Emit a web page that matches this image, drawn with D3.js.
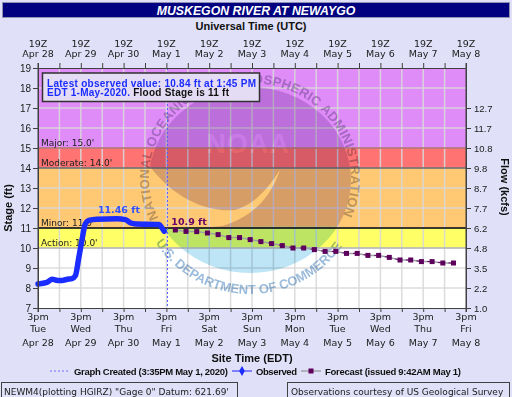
<!DOCTYPE html>
<html>
<head>
<meta charset="utf-8">
<script src="https://cdn.jsdelivr.net/npm/d3@7"></script>
<style>
  body { margin: 0; background: #e0e0f8; }
  svg { display: block; font-family: "DejaVu Sans", Verdana, sans-serif; }
  .axis path, .axis line { stroke: #404040; }
  .axis text { fill: #202020; }
</style>
</head>
<body>
<svg id="chart" width="512" height="397"></svg>
<script>
// observed stage (EDT timestamps)
const obsTimes = [
  "2020-04-28T15:00-04:00", "2020-04-28T20:00-04:00", "2020-04-28T23:00-04:00",
  "2020-04-29T02:00-04:00", "2020-04-29T04:30-04:00", "2020-04-29T07:30-04:00",
  "2020-04-29T10:00-04:00", "2020-04-29T12:00-04:00", "2020-04-29T13:45-04:00",
  "2020-04-29T15:45-04:00", "2020-04-29T17:30-04:00", "2020-04-29T19:30-04:00",
  "2020-04-30T00:00-04:00", "2020-04-30T11:15-04:00", "2020-04-30T16:00-04:00",
  "2020-04-30T19:00-04:00", "2020-04-30T22:00-04:00", "2020-05-01T11:00-04:00",
  "2020-05-01T12:30-04:00", "2020-05-01T13:45-04:00"
];
const obsStage = [8.20, 8.28, 8.44, 8.38, 8.38, 8.44, 8.47, 8.62, 9.45, 10.45,
  11.20, 11.38, 11.44, 11.46, 11.42, 11.25, 11.20, 11.18, 11.00, 10.84];

// forecast stage (UTC timestamps)
const fcstTimes = [
  "2020-05-02T00:00Z", "2020-05-02T06:00Z", "2020-05-02T12:00Z", "2020-05-02T18:00Z",
  "2020-05-03T00:00Z", "2020-05-03T06:00Z", "2020-05-03T12:00Z", "2020-05-03T18:00Z",
  "2020-05-04T00:00Z", "2020-05-04T06:00Z", "2020-05-04T12:00Z", "2020-05-04T18:00Z",
  "2020-05-05T00:00Z", "2020-05-05T06:00Z", "2020-05-05T12:00Z", "2020-05-05T18:00Z",
  "2020-05-06T00:00Z", "2020-05-06T06:00Z", "2020-05-06T12:00Z", "2020-05-06T18:00Z",
  "2020-05-07T00:00Z", "2020-05-07T06:00Z", "2020-05-07T12:00Z", "2020-05-07T18:00Z",
  "2020-05-08T00:00Z", "2020-05-08T06:00Z", "2020-05-08T12:00Z"
];
const fcstStage = [10.90, 10.83, 10.82, 10.75, 10.67, 10.52, 10.52, 10.42, 10.32,
  10.22, 10.12, 10.00, 10.00, 9.92, 9.83, 9.83, 9.73, 9.73, 9.63, 9.63, 9.53,
  9.40, 9.40, 9.32, 9.32, 9.25, 9.25];

const stageTicks = [7, 8, 9, 10, 11, 12, 13, 14, 15, 16, 17, 18, 19];
const flowStages = [7, 8, 9, 10, 11, 12, 13, 14, 15, 16, 17];
const flowLabels = ["1.0", "2.2", "3.5", "4.8", "6.2", "7.7", "8.7", "9.8", "10.8", "11.7", "12.7"];

const floodNames = ["Action", "Minor", "Moderate", "Major"];
const floodStages = [10, 11, 14, 15];

const graphCreated = "2020-05-01T19:35Z";

const bandFill = { Action: "#ffff66", Minor: "#ffc873", Moderate: "#ff7373", Major: "#e08cf8" };
const bandLine = { Action: "#a0a0a0", Minor: "#000000", Moderate: "#303030", Major: "#a03a3a" };

const svg = d3.select("#chart");
const L = 38, R = 466, T = 68, B = 308;

const x = d3.scaleUtc()
  .domain([new Date("2020-04-28T19:00Z"), new Date("2020-05-08T19:00Z")])
  .range([L, R]);
const y = d3.scaleLinear().domain([7, 19]).range([B, T]);

const halfDays = d3.range(21).map(i => d3.utcHour.offset(x.domain()[0], i * 12));
const days = halfDays.filter((d, i) => i % 2 === 0);
const edt = d => d3.utcHour.offset(d, -4);
const bf = "'Liberation Sans', Arial, sans-serif";

// title bar
svg.append("rect").attr("x", 2.5).attr("y", 2.5).attr("width", 507).attr("height", 15)
  .attr("fill", "#000080").attr("stroke", "#9090b0");
svg.append("text").attr("x", 256).attr("y", 14.5).attr("text-anchor", "middle")
  .style("font-family", bf).style("font-weight", "bold").style("font-style", "italic").style("font-size", "12.3px")
  .attr("fill", "#fff").text("MUSKEGON RIVER AT NEWAYGO");

svg.append("text").attr("x", 251).attr("y", 30).attr("text-anchor", "middle")
  .style("font-family", bf).style("font-weight", "bold").style("font-size", "11px").attr("fill", "#101010")
  .text("Universal Time (UTC)");

// plot background + flood bands
svg.append("rect").attr("x", L).attr("y", T).attr("width", R - L).attr("height", B - T).attr("fill", "#fff");
floodNames.forEach((name, i) => {
  const hi = i < floodStages.length - 1 ? floodStages[i + 1] : 19;
  svg.append("rect").attr("x", L).attr("width", R - L)
    .attr("y", y(hi)).attr("height", y(floodStages[i]) - y(hi))
    .attr("fill", bandFill[name]);
});

// grid
const grid = svg.append("g").attr("stroke", "#d8d8d8").attr("stroke-opacity", 0.9).attr("stroke-width", 1.5);
grid.selectAll(".gx").data(halfDays.slice(1, -1)).join("line")
  .attr("x1", d => x(d)).attr("x2", d => x(d)).attr("y1", T).attr("y2", B);
grid.selectAll(".gy").data(stageTicks.slice(1, -1)).join("line")
  .attr("x1", L).attr("x2", R).attr("y1", d => y(d)).attr("y2", d => y(d));

// NOAA watermark (multiplied over the bands)
const cx = 250, cy = 178;
const defs = svg.append("defs");
const wm = svg.append("g").style("mix-blend-mode", "multiply");
defs.append("clipPath").attr("id", "inner").append("ellipse")
  .attr("cx", cx).attr("cy", cy + 2).attr("rx", 101).attr("ry", 93);
const inner = wm.append("g").attr("clip-path", "url(#inner)");
inner.append("rect").attr("x", 140).attr("y", 80).attr("width", 220).attr("height", 200).attr("fill", "#d6cae2");
inner.append("path").attr("fill", "#ffffff")
  .attr("d", "M145,160 C172,198 205,212 235,210 C252,205 264,194 280,170 C270,200 250,218 222,226 L145,234 Z");
inner.append("path").attr("fill", "#bde5f6")
  .attr("d", "M140,229 C200,227 300,225 360,227 L360,290 L140,290 Z");
inner.append("text").attr("x", cx - 2).attr("y", 153).attr("text-anchor", "middle")
  .style("font-family", bf).style("font-weight", "bold")
  .style("font-size", "27px").attr("letter-spacing", 1).attr("fill", "#e6dfee").text("NOAA");

function arcPath(rx, ry, a0, a1, large, sweep) {
  const p = a => [cx + rx * Math.cos(a * Math.PI / 180), cy + ry * Math.sin(a * Math.PI / 180)];
  const s = p(a0), e = p(a1);
  return `M${s[0]},${s[1]} A${rx},${ry} 0 ${large} ${sweep} ${e[0]},${e[1]}`;
}
const topArc = defs.append("path").attr("id", "topArc").attr("d", arcPath(101, 95, 155, 385, 1, 1));
const botArc = defs.append("path").attr("id", "botArc").attr("d", arcPath(114, 116, 146, 34, 0, 0));
const ringText = (id, txt, fill, len) => wm.append("text")
  .style("font-family", bf).style("font-weight", "bold").style("font-size", "13px").attr("fill", fill)
  .append("textPath").attr("href", "#" + id).attr("textLength", len).attr("lengthAdjust", "spacing").text(txt);
ringText("topArc", "NATIONAL OCEANIC AND ATMOSPHERIC ADMINISTRATION", "#bcbcc8", topArc.node().getTotalLength() - 4);
ringText("botArc", "U.S. DEPARTMENT OF COMMERCE", "#9cbcdc", botArc.node().getTotalLength() - 4);

// flood stage lines and labels
floodNames.forEach((name, i) => {
  svg.append("line").attr("x1", L).attr("x2", R).attr("y1", y(floodStages[i])).attr("y2", y(floodStages[i]))
    .attr("stroke", bandLine[name]).attr("stroke-width", name === "Minor" ? 1.3 : 1);
  svg.append("text").attr("x", L + 3).attr("y", y(floodStages[i]) - 2)
    .style("font-size", "9px").attr("fill", "#202020")
    .text(`${name}: ${floodStages[i].toFixed(1)}'`);
});

// graph created marker
svg.append("line").attr("x1", x(new Date(graphCreated))).attr("x2", x(new Date(graphCreated)))
  .attr("y1", T).attr("y2", B).attr("stroke", "#5a5aff").attr("stroke-dasharray", "2,2");

// forecast
const fc = fcstTimes.map((t, i) => ({ t: new Date(t), v: fcstStage[i] }));
const fline = d3.line().x(d => x(d.t)).y(d => y(d.v));
svg.append("path").datum(fc).attr("fill", "none").attr("stroke", "#a0a0a8").attr("stroke-width", 1.5).attr("d", fline);
svg.append("path").datum(fc).attr("fill", "none").attr("stroke", "#660066").attr("stroke-width", 1)
  .attr("stroke-dasharray", "4,6.7").attr("stroke-dashoffset", 2).attr("d", fline);
svg.selectAll(".fpt").data(fc).join("rect")
  .attr("x", d => x(d.t) - 2.5).attr("y", d => y(d.v) - 2.5).attr("width", 5).attr("height", 5)
  .attr("fill", "#5c005c");
svg.append("text").attr("x", x(fc[0].t) - 4).attr("y", y(fc[0].v) - 5)
  .style("font-size", "9.5px").style("font-weight", "bold").attr("fill", "#660066")
  .text(`${fc[0].v} ft`);

// observed
const ob = obsTimes.map((t, i) => ({ t: new Date(t), v: obsStage[i] }));
svg.append("path").datum(ob).attr("fill", "none").attr("stroke", "#1a2cff").attr("stroke-width", 5.5)
  .attr("stroke-linejoin", "round").attr("stroke-linecap", "round")
  .attr("d", d3.line().x(d => x(d.t)).y(d => y(d.v)).curve(d3.curveMonotoneX));
const peak = ob[d3.maxIndex(ob, d => d.v)];
svg.append("text").attr("x", x(peak.t) + 2).attr("y", y(peak.v) - 6).attr("text-anchor", "middle")
  .style("font-size", "9.5px").style("font-weight", "bold").attr("fill", "#3050ff")
  .text(`${peak.v} ft`);

// latest value box
const last = ob[ob.length - 1];
const box = svg.append("g");
box.append("rect").attr("x", 42.5).attr("y", 73).attr("width", 217).attr("height", 28.5)
  .attr("fill", "#e4dcf4").attr("stroke", "#303030").attr("stroke-width", 1.5);
box.append("text").attr("x", 47).attr("y", 86.5).attr("textLength", 209)
  .style("font-family", bf).style("font-weight", "bold").style("font-size", "10px").attr("fill", "#1a2cff")
  .text(`Latest observed value: ${last.v} ft at 1:45 PM`);
const l2 = box.append("text").attr("x", 47).attr("y", 96).attr("textLength", 182)
  .style("font-family", bf).style("font-weight", "bold").style("font-size", "10px");
l2.append("tspan").attr("fill", "#1a2cff").text("EDT 1-May-2020.");
l2.append("tspan").attr("fill", "#101010").text(` Flood Stage is ${floodStages[1]} ft`);

// axes
svg.append("g").attr("class", "axis").attr("transform", `translate(0,${T})`)
  .call(d3.axisTop(x).tickValues(halfDays).tickSize(5).tickSizeOuter(0).tickFormat(""));
svg.append("g").attr("class", "axis").attr("transform", `translate(0,${B})`)
  .call(d3.axisBottom(x).tickValues(halfDays).tickSize(4).tickSizeOuter(0).tickFormat(""));
svg.append("g").attr("class", "axis").attr("transform", `translate(${L},0)`)
  .call(d3.axisLeft(y).tickValues(stageTicks).tickSize(5).tickPadding(2).tickSizeOuter(0))
  .selectAll("text").style("font-size", "10px");
svg.append("g").attr("class", "axis").attr("transform", `translate(${R},0)`)
  .call(d3.axisRight(y).tickValues(flowStages).tickSize(5).tickPadding(3).tickSizeOuter(0)
    .tickFormat((d, i) => flowLabels[i]))
  .selectAll("text").style("font-size", "9.5px");
svg.append("line").attr("x1", L).attr("x2", L).attr("y1", T - 5).attr("y2", B + 4).attr("stroke", "#404040");
svg.append("line").attr("x1", R).attr("x2", R).attr("y1", T - 5).attr("y2", B + 4).attr("stroke", "#404040");

const lab = svg.append("g").style("font-size", "9.5px").attr("fill", "#202020").attr("text-anchor", "middle");
days.forEach(d => {
  lab.append("text").attr("x", x(d)).attr("y", 47).text(d3.utcFormat("%HZ")(d));
  lab.append("text").attr("x", x(d)).attr("y", 57).text(d3.utcFormat("%b %-d")(d));
  lab.append("text").attr("x", x(d)).attr("y", 320).text(d3.utcFormat("%-I%p")(edt(d)).toLowerCase());
  lab.append("text").attr("x", x(d)).attr("y", 332).text(d3.utcFormat("%a")(edt(d)));
  lab.append("text").attr("x", x(d)).attr("y", 346).text(d3.utcFormat("%b %-d")(edt(d)));
});

svg.append("text").attr("x", 252).attr("y", 362).attr("text-anchor", "middle")
  .style("font-family", bf).style("font-weight", "bold").style("font-size", "11px").attr("fill", "#101010")
  .text("Site Time (EDT)");
svg.append("text").attr("transform", "translate(12,208) rotate(-90)").attr("text-anchor", "middle")
  .style("font-family", bf).style("font-weight", "bold").style("font-size", "11px").attr("fill", "#101010")
  .text("Stage (ft)");
svg.append("text").attr("transform", "translate(501,187) rotate(90)").attr("text-anchor", "middle")
  .style("font-family", bf).style("font-weight", "bold").style("font-size", "11px").attr("fill", "#101010")
  .text("Flow (kcfs)");

// legend
const lg = svg.append("g").style("font-family", bf).style("font-weight", "bold").style("font-size", "9.5px").attr("fill", "#101010");
lg.append("line").attr("x1", 50).attr("x2", 70).attr("y1", 371).attr("y2", 371)
  .attr("stroke", "#7070ff").attr("stroke-dasharray", "2,2");
lg.append("text").attr("x", 74).attr("y", 374.5).attr("textLength", 154).text("Graph Created (3:35PM May 1, 2020)");
lg.append("line").attr("x1", 232).attr("x2", 252).attr("y1", 371).attr("y2", 371).attr("stroke", "#6060ff").attr("stroke-width", 1.5);
lg.append("path").attr("d", d3.symbol(d3.symbolDiamond, 28)()).attr("transform", "translate(242,371)").attr("fill", "#1a2cff");
lg.append("text").attr("x", 256).attr("y", 374.5).attr("textLength", 41).text("Observed");
lg.append("line").attr("x1", 301).attr("x2", 321).attr("y1", 371).attr("y2", 371).attr("stroke", "#a0a0a8").attr("stroke-width", 1.5);
lg.append("rect").attr("x", 308.5).attr("y", 368.5).attr("width", 5).attr("height", 5).attr("fill", "#5c005c");
lg.append("text").attr("x", 325).attr("y", 374.5).attr("textLength", 136).text("Forecast (issued 9:42AM May 1)");

// footer boxes
svg.append("rect").attr("x", 1.5).attr("y", 382.5).attr("width", 236).attr("height", 16)
  .attr("fill", "none").attr("stroke", "#404040");
svg.append("text").attr("x", 4).attr("y", 394.5).style("font-size", "9px").attr("fill", "#202020")
  .text(`NEWM4(plotting HGIRZ) "Gage 0" Datum: 621.69'`);
svg.append("rect").attr("x", 287.5).attr("y", 382.5).attr("width", 222).attr("height", 16)
  .attr("fill", "none").attr("stroke", "#404040");
svg.append("text").attr("x", 291).attr("y", 394.5).style("font-size", "9px").attr("fill", "#202020")
  .text("Observations courtesy of US Geological Survey");
</script>
</body>
</html>
